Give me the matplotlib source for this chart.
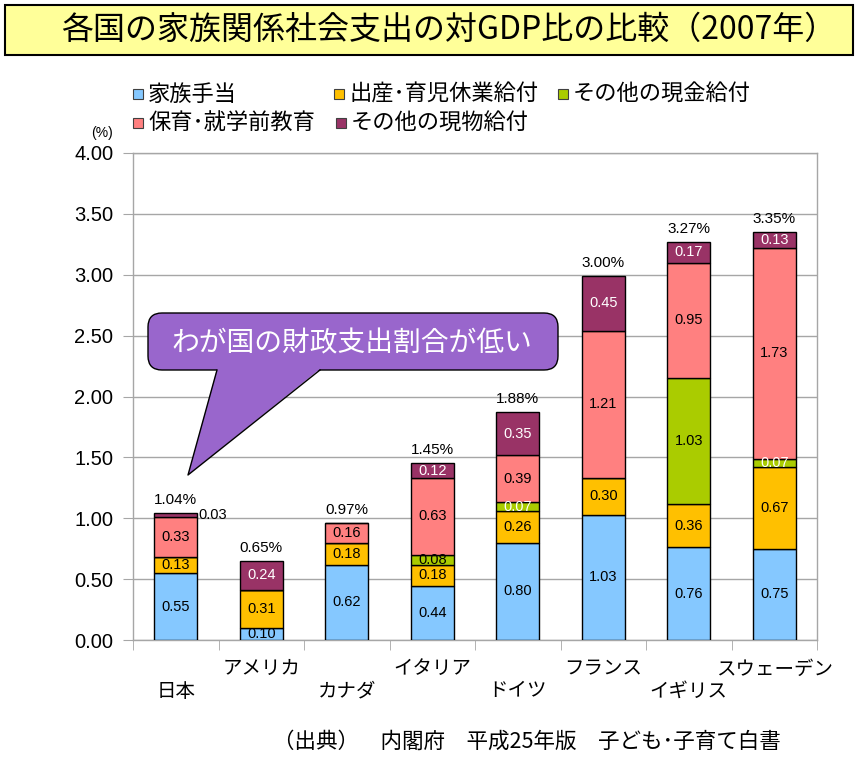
import matplotlib
matplotlib.use("Agg")
import matplotlib.pyplot as plt
import numpy as np
from matplotlib.patches import Rectangle, FancyBboxPatch, Polygon

plt.rcParams['font.family'] = ['Liberation Sans', 'Noto Sans CJK JP', 'DejaVu Sans']

# data (% of GDP, 2007)
countries = ["日本", "アメリカ", "カナダ", "イタリア", "ドイツ", "フランス", "イギリス", "スウェーデン"]
series_names = ["家族手当", "出産･育児休業給付", "その他の現金給付", "保育･就学前教育", "その他の現物給付"]
family_allow = [0.55, 0.10, 0.62, 0.44, 0.80, 1.03, 0.76, 0.75]
birth_leave = [0.13, 0.31, 0.18, 0.18, 0.26, 0.30, 0.36, 0.67]
other_cash = [0.00, 0.00, 0.00, 0.08, 0.07, 0.00, 1.03, 0.07]
childcare = [0.33, 0.00, 0.16, 0.63, 0.39, 1.21, 0.95, 1.73]
other_kind = [0.03, 0.24, 0.00, 0.12, 0.35, 0.45, 0.17, 0.13]
totals = [1.04, 0.65, 0.97, 1.45, 1.88, 3.00, 3.27, 3.35]

series = [family_allow, birth_leave, other_cash, childcare, other_kind]
colors = ["#85C8FF", "#FFC000", "#AACC00", "#FF8080", "#993366"]
label_colors = ["black", "black", "black", "black", "white"]

W, H = 859, 765
fig = plt.figure(figsize=(W / 100, H / 100), dpi=100)
fig.patch.set_facecolor("white")

# plot area in pixels
left, right, top, bottom = 133, 817, 153, 640
ax = fig.add_axes([left / W, (H - bottom) / H, (right - left) / W, (bottom - top) / H])

x = np.arange(len(countries))
base = np.zeros(len(countries))
for k, vals in enumerate(series):
    vals = np.array(vals)
    ax.bar(x, vals, 0.5, bottom=base, color=colors[k], edgecolor="black", linewidth=1, zorder=3)
    for i, v in enumerate(vals):
        if v <= 0:
            continue
        c = label_colors[k]
        if k == 2 and countries[i] in ("ドイツ", "スウェーデン"):
            c = "white"
        if countries[i] == "日本" and k == 4:
            ax.text(i + 0.26, base[i] + v / 2, "%.2f" % v, ha="left", va="center",
                    fontsize=10.5, color="black", zorder=4)
        else:
            ax.text(i, base[i] + v / 2, "%.2f" % v, ha="center", va="center",
                    fontsize=10.5, color=c, zorder=4)
    base = base + vals

for i, t in enumerate(totals):
    ax.text(i, base[i] + 0.05, "%.2f%%" % t, ha="center", va="bottom", fontsize=11, zorder=4)

ax.set_xlim(-0.5, len(countries) - 0.5)
ax.set_ylim(0, 4)
ax.set_yticks(np.arange(0, 4.01, 0.5))
ax.set_yticklabels(["%.2f" % v for v in np.arange(0, 4.01, 0.5)])
ax.tick_params(axis="y", length=7.2, color="#A6A6A6", labelsize=14.5, pad=7)
ax.set_xticks(x)
ax.set_xticklabels(countries, fontsize=14)
ax.set_xticks(np.arange(-0.5, len(countries), 1), minor=True)
ax.tick_params(axis="x", which="major", length=0)
ax.tick_params(axis="x", which="minor", length=7.2, color="#A6A6A6")
for i, tk in enumerate(ax.xaxis.get_major_ticks()):
    tk.set_pad(31 if i % 2 == 0 else 15)
ax.yaxis.grid(True, color="#A6A6A6", linewidth=1, zorder=0)
ax.set_axisbelow(True)
for s in ax.spines.values():
    s.set_color("#A6A6A6")
    s.set_linewidth(1)

# overlay in pixel coordinates
ov = fig.add_axes([0, 0, 1, 1])
ov.set_xlim(0, W)
ov.set_ylim(H, 0)
ov.axis("off")

ov.add_patch(Rectangle((5, 5), 848, 50, facecolor="#FFFF99", edgecolor="black", linewidth=1.5))
ov.text(449, 30, "各国の家族関係社会支出の対GDP比の比較（2007年）", ha="center", va="center",
        fontsize=23, family=["Noto Sans CJK JP"])

# legend
leg_pos = [(133, 94), (334, 94), (558, 94), (133, 123), (336, 123)]
for k, name in enumerate(series_names):
    lx, ly = leg_pos[k]
    ov.add_patch(Rectangle((lx, ly - 5), 10, 10, facecolor=colors[k], edgecolor="#404040", linewidth=0.8))
    ov.text(lx + 15, ly, name, ha="left", va="center", fontsize=16, family=["Noto Sans CJK JP"])

ov.text(102, 133, "(%)", ha="center", va="center", fontsize=10)

# speech bubble
ov.add_patch(FancyBboxPatch((148, 313), 410, 57, boxstyle="round,pad=0,rounding_size=14",
                            facecolor="#9966CC", edgecolor="black", linewidth=1))
tail = [(217, 369), (320, 369), (188, 475)]
ov.add_patch(Polygon(tail, closed=True, facecolor="#9966CC", edgecolor="none"))
ov.plot([217, 188, 320], [370, 475, 370], color="black", linewidth=1)
ov.text(352, 343, "わが国の財政支出割合が低い", ha="center", va="center", fontsize=20,
        color="white", family=["Noto Sans CJK JP"])

ov.text(527, 742, "（出典）　内閣府　平成25年版　子ども･子育て白書", ha="center", va="center",
        fontsize=15.5, family=["Noto Sans CJK JP"])

fig.savefig("out.png", dpi=100)
